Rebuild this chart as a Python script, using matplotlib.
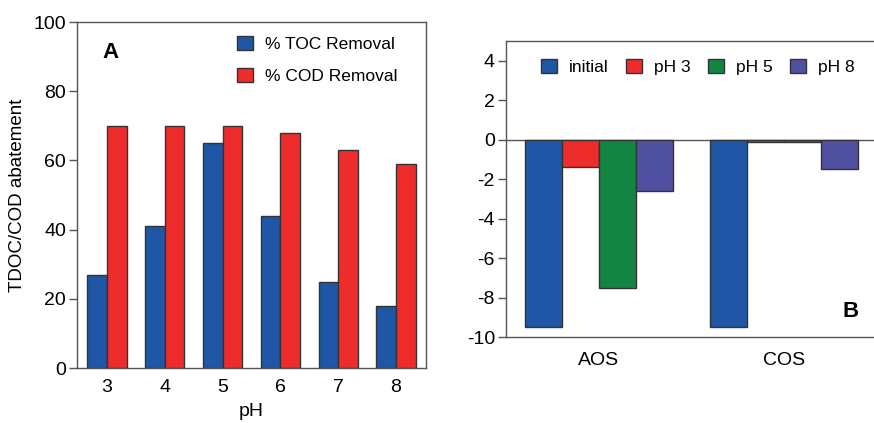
import numpy as np
import matplotlib.pyplot as plt

plt.rcParams['font.family'] = ['Liberation Sans', 'DejaVu Sans']
plt.rcParams['axes.unicode_minus'] = False

# panel A: removal vs pH
ph = ["3", "4", "5", "6", "7", "8"]
toc_removal = [27, 41, 65, 44, 25, 18]
cod_removal = [70, 70, 70, 68, 63, 59]

# panel B: oxidation state changes
species = ["AOS", "COS"]
series_b = ["initial", "pH 3", "pH 5", "pH 8"]
initial = [-9.5, -9.5]
ph3 = [-1.4, -0.1]
ph5 = [-7.5, -0.1]
ph8 = [-2.6, -1.5]

blue = "#1f56a5"
red = "#ee2c2c"
green = "#138442"
purple = "#5050a0"
edge = "#333333"
spine_c = "#555555"

fig = plt.figure(figsize=(8.74, 4.23), dpi=100)

# ---- A ----
axA = fig.add_axes([77/874, 1 - 368/423, (426-77)/874, (368-22)/423])
x = np.arange(len(ph))
w = 0.34
axA.bar(x - w/2, toc_removal, w, color=blue, edgecolor=edge, linewidth=1.0, label="% TOC Removal")
axA.bar(x + w/2, cod_removal, w, color=red, edgecolor=edge, linewidth=1.0, label="% COD Removal")
axA.set_xlim(-0.52, 5.52)
axA.set_ylim(0, 100)
axA.set_yticks(range(0, 101, 20))
axA.set_xticks(x)
axA.set_xticklabels(ph)
axA.tick_params(axis="y", direction="out", length=6, width=1, color=spine_c, labelsize=14, pad=2)
axA.tick_params(axis="x", length=0, labelsize=14, pad=8)
axA.set_xlabel("pH", fontsize=14, labelpad=5)
axA.set_ylabel("TDOC/COD abatement", fontsize=13.5, labelpad=5)
for s in axA.spines.values():
    s.set_color(spine_c)
    s.set_linewidth(1.0)
axA.text(0.095, 0.913, "A", transform=axA.transAxes, fontsize=16, fontweight="bold",
         ha="center", va="center")
axA.legend(loc="upper left", bbox_to_anchor=(0.425, 0.995), frameon=False, fontsize=12.5,
           handlelength=0.9, handleheight=0.9, handletextpad=0.7, labelspacing=0.9,
           borderaxespad=0.3)

# ---- B ----
axB = fig.add_axes([506/874, 1 - 337/423, (880-506)/874, (337-41)/423])
xb = np.arange(len(species))
wb = 0.2
vals = [initial, ph3, ph5, ph8]
cols = [blue, red, green, purple]
for i, (v, c, lab) in enumerate(zip(vals, cols, series_b)):
    axB.bar(xb + (i - 1.5) * wb, v, wb, color=c, edgecolor=edge, linewidth=1.0, label=lab)
axB.axhline(0, color=spine_c, linewidth=1.0, zorder=0)
axB.set_xlim(-0.5, 1.52)
axB.set_ylim(-10, 5)
axB.set_yticks(range(-10, 5, 2))
axB.set_xticks(xb)
axB.set_xticklabels(species)
axB.tick_params(axis="y", direction="out", length=6, width=1, color=spine_c, labelsize=14, pad=2)
axB.tick_params(axis="x", length=0, labelsize=14, pad=11)
for s in axB.spines.values():
    s.set_color(spine_c)
    s.set_linewidth(1.0)
axB.spines["right"].set_visible(False)
axB.text(0.92, 0.085, "B", transform=axB.transAxes, fontsize=16, fontweight="bold",
         ha="center", va="center")
axB.legend(loc="upper left", bbox_to_anchor=(0.062, 0.98), ncol=4, frameon=False, fontsize=12.5,
           handlelength=0.9, handleheight=0.9, handletextpad=0.7, columnspacing=1.0,
           borderaxespad=0.3)

fig.savefig("out.png", dpi=100)
